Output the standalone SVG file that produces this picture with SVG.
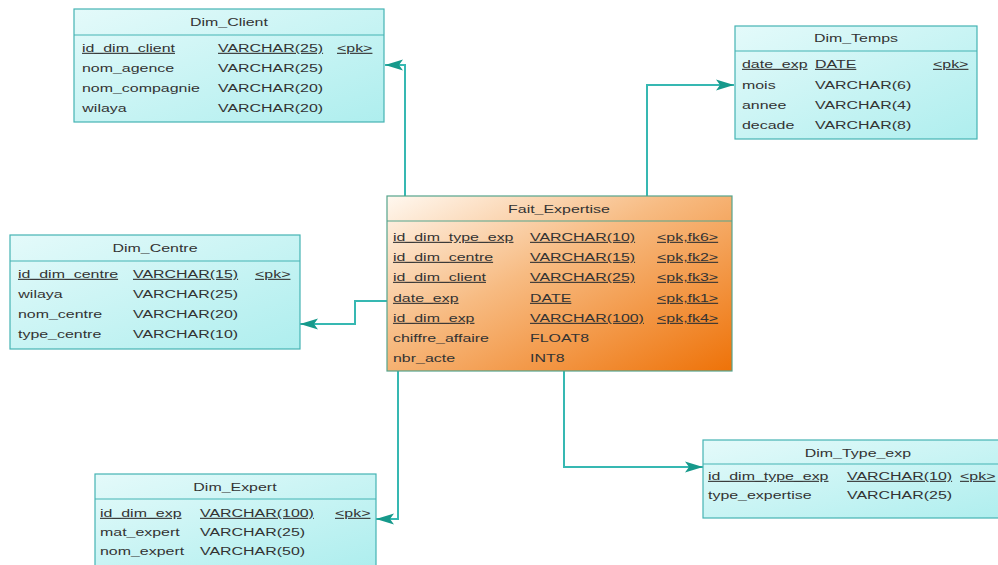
<svg xmlns="http://www.w3.org/2000/svg" width="998" height="565" viewBox="0 0 998 565">
  <defs>
    <linearGradient id="dimFill" x1="0" y1="0" x2="1" y2="1">
      <stop offset="0" stop-color="#e4fafa"/>
      <stop offset="1" stop-color="#aeeeee"/>
    </linearGradient>
    <linearGradient id="factFill" x1="0" y1="0" x2="1" y2="1">
      <stop offset="0" stop-color="#fff8f0"/>
      <stop offset="0.42" stop-color="#f7bb82"/>
      <stop offset="1" stop-color="#ee7208"/>
    </linearGradient>
    <marker id="fk" viewBox="0 0 18 12" refX="18" refY="6" markerWidth="18" markerHeight="12" markerUnits="userSpaceOnUse" orient="auto">
      <path d="M0,0.5 L18,6 L0,11.5 L4,6 Z" fill="#16998b"/>
    </marker>
  </defs>
  <style>
    .dim { fill: url(#dimFill); stroke: #45b3b3; stroke-width: 1.2; }
    .fact { fill: url(#factFill); stroke: #55a48c; stroke-width: 1.2; }
    .sep { stroke: #45b3b3; stroke-width: 1.2; }
    .fsep { stroke: #55a48c; stroke-width: 1.2; }
    text { font-family: "Liberation Sans", Arial, sans-serif; font-size: 11px; fill: #333333;
           transform-box: fill-box; transform-origin: 0 0; transform: scaleX(1.45); }
    .title { text-anchor: middle; transform-origin: 50% 0; }
    .u { text-decoration: underline; }
    .link { fill: none; stroke: #36b8b2; stroke-width: 2; marker-end: url(#fk); }
  </style>

  <rect width="998" height="565" fill="#ffffff"/>

  <!-- relationships -->
  <g id="connectors">
    <path class="link" d="M405,196 V65 H385"/>
    <path class="link" d="M647,196 V85 H734"/>
    <path class="link" d="M387,301 H355 V324 H300"/>
    <path class="link" d="M398,371 V519 H376"/>
    <path class="link" d="M564,371 V467 H703"/>
  </g>

  <g id="Dim_Client">
    <rect class="dim" x="74" y="9" width="310" height="113"/>
    <line class="sep" x1="74" y1="35" x2="384" y2="35"/>
    <text class="title" x="229" y="26">Dim_Client</text>
    <text class="u" x="82" y="52">id_dim_client</text>
    <text class="u" x="218" y="52">VARCHAR(25)</text>
    <text class="u" x="337" y="52">&lt;pk&gt;</text>
    <text x="82" y="72">nom_agence</text>
    <text x="218" y="72">VARCHAR(25)</text>
    <text x="82" y="92">nom_compagnie</text>
    <text x="218" y="92">VARCHAR(20)</text>
    <text x="82" y="112">wilaya</text>
    <text x="218" y="112">VARCHAR(20)</text>
  </g>

  <g id="Dim_Temps">
    <rect class="dim" x="735" y="26" width="242" height="113"/>
    <line class="sep" x1="735" y1="51" x2="977" y2="51"/>
    <text class="title" x="856" y="42">Dim_Temps</text>
    <text class="u" x="742" y="68">date_exp</text>
    <text class="u" x="815" y="68">DATE</text>
    <text class="u" x="933" y="68">&lt;pk&gt;</text>
    <text x="742" y="89">mois</text>
    <text x="815" y="89">VARCHAR(6)</text>
    <text x="742" y="109">annee</text>
    <text x="815" y="109">VARCHAR(4)</text>
    <text x="742" y="129">decade</text>
    <text x="815" y="129">VARCHAR(8)</text>
  </g>

  <g id="Dim_Centre">
    <rect class="dim" x="10" y="235" width="290" height="114"/>
    <line class="sep" x1="10" y1="261" x2="300" y2="261"/>
    <text class="title" x="155" y="252">Dim_Centre</text>
    <text class="u" x="18" y="278">id_dim_centre</text>
    <text class="u" x="133" y="278">VARCHAR(15)</text>
    <text class="u" x="255" y="278">&lt;pk&gt;</text>
    <text x="18" y="298">wilaya</text>
    <text x="133" y="298">VARCHAR(25)</text>
    <text x="18" y="318">nom_centre</text>
    <text x="133" y="318">VARCHAR(20)</text>
    <text x="18" y="338">type_centre</text>
    <text x="133" y="338">VARCHAR(10)</text>
  </g>

  <g id="Fait_Expertise">
    <rect class="fact" x="387" y="196" width="345" height="175"/>
    <line class="fsep" x1="387" y1="221" x2="732" y2="221"/>
    <text class="title" x="559" y="213">Fait_Expertise</text>
    <text class="u" x="393" y="241">id_dim_type_exp</text>
    <text class="u" x="530" y="241">VARCHAR(10)</text>
    <text class="u" x="657" y="241">&lt;pk,fk6&gt;</text>
    <text class="u" x="393" y="261">id_dim_centre</text>
    <text class="u" x="530" y="261">VARCHAR(15)</text>
    <text class="u" x="657" y="261">&lt;pk,fk2&gt;</text>
    <text class="u" x="393" y="281">id_dim_client</text>
    <text class="u" x="530" y="281">VARCHAR(25)</text>
    <text class="u" x="657" y="281">&lt;pk,fk3&gt;</text>
    <text class="u" x="393" y="302">date_exp</text>
    <text class="u" x="530" y="302">DATE</text>
    <text class="u" x="657" y="302">&lt;pk,fk1&gt;</text>
    <text class="u" x="393" y="322">id_dim_exp</text>
    <text class="u" x="530" y="322">VARCHAR(100)</text>
    <text class="u" x="657" y="322">&lt;pk,fk4&gt;</text>
    <text x="393" y="342">chiffre_affaire</text>
    <text x="530" y="342">FLOAT8</text>
    <text x="393" y="362">nbr_acte</text>
    <text x="530" y="362">INT8</text>
  </g>

  <g id="Dim_Expert">
    <rect class="dim" x="95" y="474" width="281" height="92"/>
    <line class="sep" x1="95" y1="499" x2="376" y2="499"/>
    <text class="title" x="235" y="491">Dim_Expert</text>
    <text class="u" x="100" y="517">id_dim_exp</text>
    <text class="u" x="200" y="517">VARCHAR(100)</text>
    <text class="u" x="335" y="517">&lt;pk&gt;</text>
    <text x="100" y="536">mat_expert</text>
    <text x="200" y="536">VARCHAR(25)</text>
    <text x="100" y="555">nom_expert</text>
    <text x="200" y="555">VARCHAR(50)</text>
  </g>

  <g id="Dim_Type_exp">
    <rect class="dim" x="703" y="440" width="310" height="78"/>
    <line class="sep" x1="703" y1="464" x2="1013" y2="464"/>
    <text class="title" x="858" y="457">Dim_Type_exp</text>
    <text class="u" x="708" y="480">id_dim_type_exp</text>
    <text class="u" x="847" y="480">VARCHAR(10)</text>
    <text class="u" x="960" y="480">&lt;pk&gt;</text>
    <text x="708" y="499">type_expertise</text>
    <text x="847" y="499">VARCHAR(25)</text>
  </g>
</svg>
